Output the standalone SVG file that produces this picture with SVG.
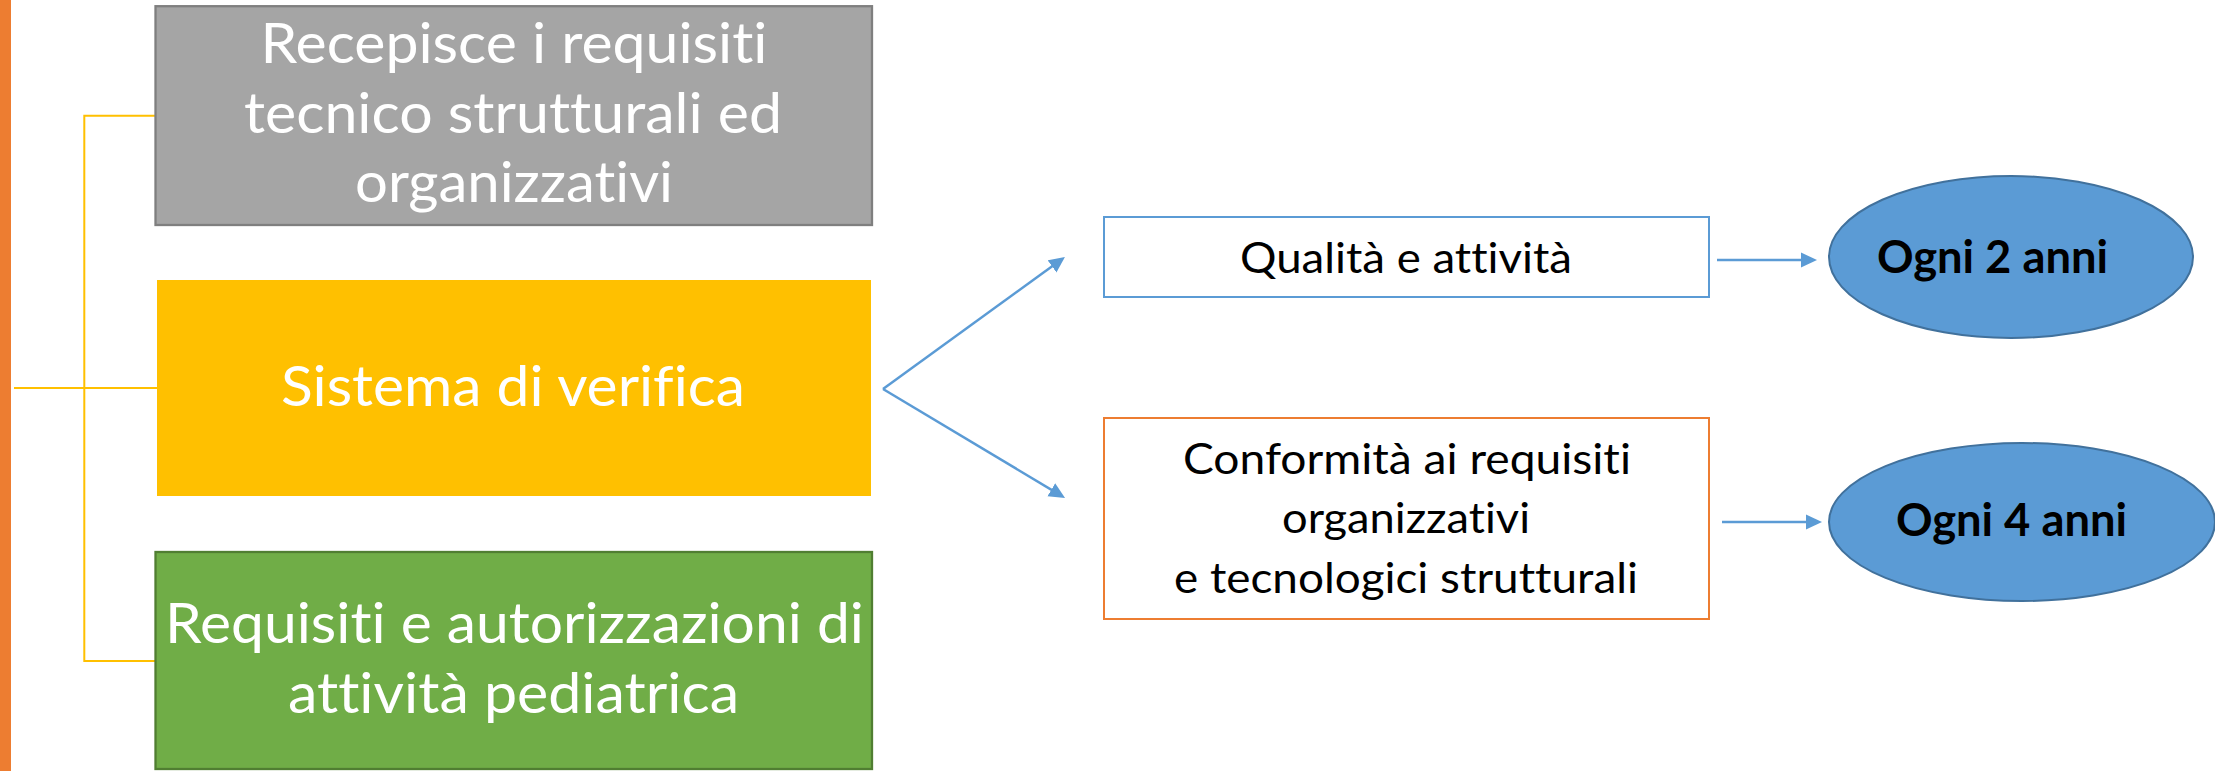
<svg xmlns="http://www.w3.org/2000/svg" width="2215" height="771" viewBox="0 0 2215 771">
  <style>
    text { font-variant-ligatures: none; font-feature-settings: "liga" 0, "clig" 0; }
    .wt { font-family: Lato, "Open Sans", "Liberation Sans", sans-serif; fill: #FFFFFF; text-anchor: middle; font-size: 57px; }
    .bt { font-family: Lato, "Open Sans", "Liberation Sans", sans-serif; fill: #000000; text-anchor: middle; font-size: 43px; }
    .bold { font-family: Lato, "Open Sans", "Liberation Sans", sans-serif; fill: #000000; text-anchor: middle; font-size: 45px; font-weight: bold; }
    .tree { stroke: #FFC000; stroke-width: 2; fill: none; }
    .arr { stroke: #5B9BD5; stroke-width: 2.5; fill: none; marker-end: url(#ah); }
  </style>
  <defs>
    <marker id="ah" markerUnits="userSpaceOnUse" markerWidth="16" markerHeight="16" viewBox="0 0 16 16" refX="10" refY="8" orient="auto">
      <path d="M0,0.5 L16,8 L0,15.5 z" fill="#5B9BD5"/>
    </marker>
  </defs>
  <rect width="2215" height="771" fill="#FFFFFF"/>
  <rect id="side-bar" x="0" y="0" width="11" height="771" fill="#ED7D31"/>

  <g id="connectors">
    <polyline class="tree" points="155,115.7 84.3,115.7 84.3,661 155,661"/>
    <line class="tree" x1="14" y1="388" x2="157" y2="388"/>
    <line class="arr" x1="883" y1="389" x2="1060.1" y2="260.5"/>
    <line class="arr" x1="883" y1="389" x2="1059.9" y2="494.9"/>
    <line class="arr" x1="1717" y1="260" x2="1811" y2="260"/>
    <line class="arr" x1="1722" y1="522" x2="1816" y2="522"/>
  </g>

  <g id="node-recepisce">
    <rect x="155.5" y="6.2" width="716.5" height="218.8" fill="#A5A5A5" stroke="#7F7F7F" stroke-width="2.3"/>
    <text class="wt" x="514" y="63" textLength="507" lengthAdjust="spacingAndGlyphs">Recepisce i requisiti</text>
    <text class="wt" x="513" y="133" textLength="538" lengthAdjust="spacingAndGlyphs">tecnico strutturali ed</text>
    <text class="wt" x="514" y="202" textLength="318" lengthAdjust="spacingAndGlyphs">organizzativi</text>
  </g>

  <g id="node-sistema">
    <rect x="157" y="280" width="714" height="216" fill="#FFC000"/>
    <text class="wt" x="513" y="406" textLength="464" lengthAdjust="spacingAndGlyphs">Sistema di verifica</text>
  </g>

  <g id="node-requisiti">
    <rect x="155.5" y="552" width="716.5" height="217" fill="#70AD47" stroke="#507E32" stroke-width="2.3"/>
    <text class="wt" x="514.5" y="643" textLength="699" lengthAdjust="spacingAndGlyphs">Requisiti e autorizzazioni di</text>
    <text class="wt" x="513.5" y="713" textLength="451" lengthAdjust="spacingAndGlyphs">attività pediatrica</text>
  </g>

  <g id="node-qualita">
    <rect x="1104" y="217" width="605" height="80" fill="#FFFFFF" stroke="#5B9BD5" stroke-width="2"/>
    <text class="bt" x="1406" y="273" textLength="332" lengthAdjust="spacingAndGlyphs">Qualità e attività</text>
  </g>

  <g id="node-conformita">
    <rect x="1104" y="418" width="605" height="201" fill="#FFFFFF" stroke="#ED7D31" stroke-width="2"/>
    <text class="bt" x="1407" y="474" textLength="448" lengthAdjust="spacingAndGlyphs">Conformità ai requisiti</text>
    <text class="bt" x="1406" y="533" textLength="248" lengthAdjust="spacingAndGlyphs">organizzativi</text>
    <text class="bt" x="1406" y="593" textLength="464" lengthAdjust="spacingAndGlyphs">e tecnologici strutturali</text>
  </g>

  <g id="node-ogni2">
    <ellipse cx="2011" cy="257" rx="182" ry="81" fill="#5B9BD5" stroke="#41719C" stroke-width="2"/>
    <text class="bold" x="1992.5" y="273" textLength="231" lengthAdjust="spacingAndGlyphs">Ogni 2 anni</text>
  </g>

  <g id="node-ogni4">
    <ellipse cx="2022" cy="522" rx="193" ry="79" fill="#5B9BD5" stroke="#41719C" stroke-width="2"/>
    <text class="bold" x="2011.5" y="536" textLength="231" lengthAdjust="spacingAndGlyphs">Ogni 4 anni</text>
  </g>
</svg>
